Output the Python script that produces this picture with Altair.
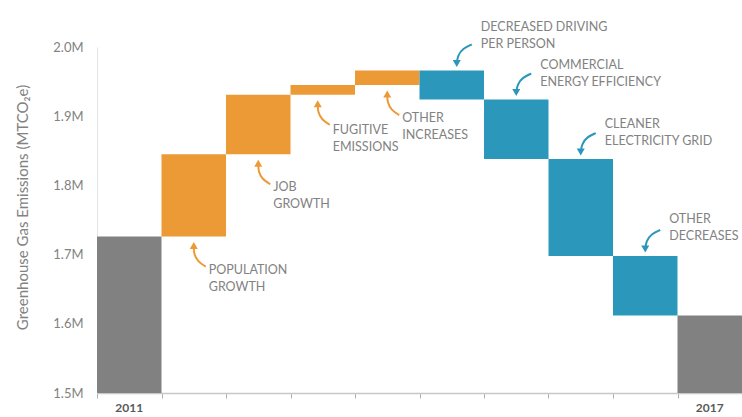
import altair as alt
import pandas as pd

# ---------------- data ----------------
categories = ["2011", "Population Growth", "Job Growth", "Fugitive Emissions",
              "Other Increases", "Decreased Driving per Person",
              "Commercial Energy Efficiency", "Cleaner Electricity Grid",
              "Other Decreases", "2017"]
start_total = 1.726          # million MTCO2e in 2011
changes = [0.119, 0.086, 0.014, 0.021, -0.042, -0.086, -0.140, -0.086]
label_lines = [["POPULATION", "GROWTH"], ["JOB", "GROWTH"],
               ["FUGITIVE", "EMISSIONS"], ["OTHER", "INCREASES"],
               ["DECREASED DRIVING", "PER PERSON"], ["COMMERCIAL", "ENERGY EFFICIENCY"],
               ["CLEANER", "ELECTRICITY GRID"], ["OTHER", "DECREASES"]]
y_ticks = [1.5, 1.6, 1.7, 1.8, 1.9, 2.0]
y_min, y_max = 1.5, 2.0

# ---------------- style ----------------
W, H = 645, 346
PX_X = W / len(categories)
PX_Y = H / (y_max - y_min)
GRAY, ORANGE, BLUE = "#818181", "#EC9A35", "#2A97BB"
TEXT = "#828282"
FONT = "Lato"
# per-annotation nudges in pixels (dx, extra lift of label)
nudges = [(0, 0), (0, 0), (-5, -2), (0, 0), (5, 9), (0, 0), (0, 0), (0, 2)]

# ---------------- build tables ----------------
rows = [dict(cat=categories[0], x0=0, x1=1, lo=y_min, hi=start_total, kind="total")]
level = start_total
for k, d in enumerate(changes):
    new = level + d
    rows.append(dict(cat=categories[k + 1], x0=k + 1, x1=k + 2,
                     lo=min(level, new), hi=max(level, new),
                     kind="increase" if d > 0 else "decrease"))
    level = new
rows.append(dict(cat=categories[-1], x0=len(categories) - 1, x1=len(categories),
                 lo=y_min, hi=level, kind="total"))
bars = pd.DataFrame(rows)

# annotation shapes (pixel offsets: dx right, dy down) relative to bar edge centre
up_curve = [(0, 9), (0, 17), (4, 25), (12, 30)]
down_curve = [(0, -7), (1, -15), (6, -22), (15, -26)]

arrow_rows, head_rows, text_rows = [], [], []
for k, d in enumerate(changes):
    b = rows[k + 1]
    ndx, nlift = nudges[k]
    cx = b["x0"] + 0.5 + ndx / PX_X
    inc = d > 0
    edge = b["lo"] if inc else b["hi"]
    curve = up_curve if inc else down_curve
    for j, (dx, dy) in enumerate(curve):
        arrow_rows.append(dict(id=k, o=j, kind=b["kind"],
                               x=cx + dx / PX_X, y=edge - dy / PX_Y))
    hdy = 9 if inc else -7
    head_rows.append(dict(kind=b["kind"], shape="triangle-up" if inc else "triangle-down",
                          x=cx, y=edge - hdy / PX_Y))
    lx, l1, l2 = (15, 33, 50) if inc else (24, -35, -18)
    for line, ly in zip(label_lines[k], (l1, l2)):
        text_rows.append(dict(x=cx + lx / PX_X, y=edge - (ly - nlift) / PX_Y, t=line))

arrows = pd.DataFrame(arrow_rows)
heads = pd.DataFrame(head_rows)
texts = pd.DataFrame(text_rows)
years = pd.DataFrame([dict(x=0.5, y=y_min, t=categories[0]),
                      dict(x=len(categories) - 0.5, y=y_min, t=categories[-1])])

color_scale = alt.Scale(domain=["total", "increase", "decrease"], range=[GRAY, ORANGE, BLUE])
xs = alt.Scale(domain=[0, len(categories)], nice=False, zero=False)
ys = alt.Scale(domain=[y_min, y_max], nice=False, zero=False)

bar_layer = alt.Chart(bars).mark_rect().encode(
    x=alt.X("x0:Q", scale=xs,
            axis=alt.Axis(values=list(range(len(categories) + 1)), labels=False, title=None,
                          grid=False, domainColor="#C8C8C8", tickColor="#B0B0B0",
                          tickSize=5, domainWidth=1.5)),
    x2="x1:Q",
    y=alt.Y("lo:Q", scale=ys,
            axis=alt.Axis(values=y_ticks, labelExpr="format(datum.value, '.1f') + 'M'",
                          title="Greenhouse Gas Emissions (MTCO₂e)", grid=False,
                          ticks=False, domainColor="#E3E3E3", labelPadding=14,
                          labelColor=TEXT, labelFont=FONT, labelFontSize=13,
                          titleColor=TEXT, titleFont=FONT, titleFontSize=15,
                          titleFontWeight="normal", titleX=-75, titleY=160,
                          titleBaseline="middle", titleAlign="center")),
    y2="hi:Q",
    color=alt.Color("kind:N", scale=color_scale, legend=None),
)

arrow_layer = alt.Chart(arrows).mark_line(strokeWidth=2, interpolate="basis").encode(
    x=alt.X("x:Q", scale=xs), y=alt.Y("y:Q", scale=ys),
    detail="id:N", order="o:Q",
    color=alt.Color("kind:N", scale=color_scale, legend=None),
)

head_layer = alt.Chart(heads).mark_point(filled=True, size=65, opacity=1).encode(
    x=alt.X("x:Q", scale=xs), y=alt.Y("y:Q", scale=ys),
    shape=alt.Shape("shape:N", scale=None, legend=None),
    color=alt.Color("kind:N", scale=color_scale, legend=None),
)

text_layer = alt.Chart(texts).mark_text(
    align="left", baseline="middle", font=FONT, fontSize=12.5, color=TEXT
).encode(x=alt.X("x:Q", scale=xs), y=alt.Y("y:Q", scale=ys), text="t:N")

year_layer = alt.Chart(years).mark_text(
    align="center", baseline="middle", font=FONT, fontSize=12, fontWeight="bold",
    color="#595959", dy=15
).encode(x=alt.X("x:Q", scale=xs), y=alt.Y("y:Q", scale=ys), text="t:N")

chart = alt.layer(bar_layer, arrow_layer, head_layer, text_layer, year_layer).properties(
    width=W, height=H,
    autosize=alt.AutoSizeParams(type="none"),
    padding={"left": 97, "top": 47, "right": 0, "bottom": 24},
    background="white",
).configure_view(stroke=None)

chart.save("out.html", embed_options={"renderer": "svg", "actions": False})
